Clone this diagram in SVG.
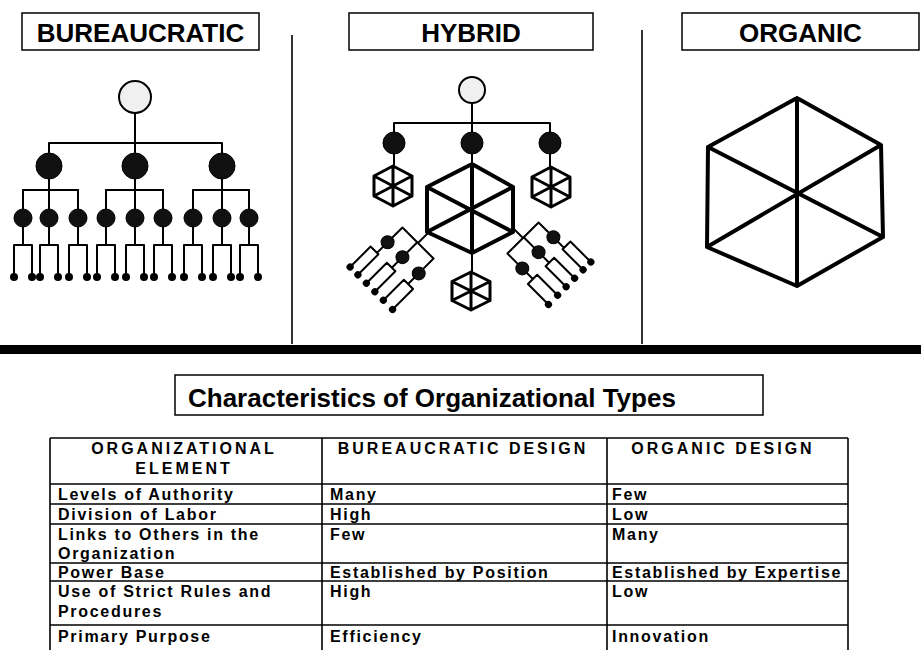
<svg xmlns="http://www.w3.org/2000/svg" width="921" height="650" viewBox="0 0 921 650">
<style>
.ln{stroke:#000;stroke-width:2;fill:none;stroke-linecap:round;stroke-linejoin:round}
.hexb{stroke:#000;stroke-width:4;fill:none;stroke-linejoin:round;stroke-linecap:round}
.hexs{stroke:#000;stroke-width:3;fill:none;stroke-linejoin:round;stroke-linecap:round}
.rootc{fill:#f0f0f0;stroke:#000;stroke-width:2}
.dark{fill:#111;stroke:#000;stroke-width:1}
.dot{fill:#000}
.box{fill:#fff;stroke:#000;stroke-width:1.5}
.lbl{font-family:'Liberation Sans',Arial,sans-serif;font-weight:bold;font-size:26px;fill:#000}
.th{font-family:'Liberation Sans',Arial,sans-serif;font-weight:bold;font-size:16px;letter-spacing:3px;fill:#000}
.td{font-family:'Liberation Sans',Arial,sans-serif;font-weight:bold;font-size:16px;letter-spacing:1.7px;fill:#000}
.grid{stroke:#000;stroke-width:1.6;fill:none}
</style>
<defs>
<g id="brc">
<path class="ln" d="M0,-14V0M-22,0H22M-22,0V21M-1,0V21M22,0V21M-22,21V36M-31,36H-20M-31,36V65M-20,36V65M-1,21V36M-8,36H4M-8,36V65M4,36V65M22,21V36M16,36H29M16,36V65M29,36V65"/>
</g>
<g id="brn">
<circle class="dark" cx="-22" cy="21" r="6.5"/><circle class="dark" cx="-1" cy="21" r="6.5"/><circle class="dark" cx="22" cy="21" r="6.5"/>
<circle class="dot" cx="-31" cy="65" r="3.6"/><circle class="dot" cx="-20" cy="65" r="3.6"/><circle class="dot" cx="-8" cy="65" r="3.6"/><circle class="dot" cx="4" cy="65" r="3.6"/><circle class="dot" cx="16" cy="65" r="3.6"/><circle class="dot" cx="29" cy="65" r="3.6"/>
</g>
</defs>
<rect width="921" height="650" fill="#fff"/>

<g id="hdr-bureaucratic"><rect class="box" x="22" y="13" width="237" height="37"/><text class="lbl" x="140.5" y="42" text-anchor="middle">BUREAUCRATIC</text></g>
<g id="hdr-hybrid"><rect class="box" x="349" y="13" width="244" height="37"/><text class="lbl" x="471" y="42" text-anchor="middle">HYBRID</text></g>
<g id="hdr-organic"><rect class="box" x="682" y="13" width="237" height="37"/><text class="lbl" x="800.5" y="42" text-anchor="middle">ORGANIC</text></g>

<g id="dividers">
<line x1="292" y1="35" x2="292" y2="344" stroke="#000" stroke-width="1.6"/>
<line x1="642" y1="30" x2="642" y2="344" stroke="#000" stroke-width="1.6"/>
<rect x="0" y="345" width="921" height="9" fill="#000"/>
</g>

<g id="connectors">
<path class="ln" d="M135,113V143M49,143H222M49,143V153M135,143V153M222,143V153M49,179V190M135,179V190M222,179V190M23,190H78M106,190H163M193,190H249"/>
<path class="ln" d="M23,190V209M49,190V209M78,190V209M106,190V209M135,190V209M163,190V209M193,190V209M222,190V209M249,190V209"/>
<path class="ln" d="M23,227V245M14,245H32M14,245V277M32,245V277
M49,227V245M40,245H58M40,245V277M58,245V277
M78,227V245M69,245H87M69,245V277M87,245V277
M106,227V245M97,245H115M97,245V277M115,245V277
M135,227V245M126,245H144M126,245V277M144,245V277
M163,227V245M154,245H172M154,245V277M172,245V277
M193,227V245M184,245H202M184,245V277M202,245V277
M222,227V245M213,245H231M213,245V277M231,245V277
M249,227V245M240,245H258M240,245V277M258,245V277"/>
<path class="ln" d="M472,103V123M394,123H550M394,123V132M472,123V132M550,123V132M394,154V166M472,154V164M550,154V167M472,253V272"/>
<use href="#brc" transform="translate(418,243) rotate(45)"/>
<use href="#brc" transform="translate(523,238) rotate(-45) scale(-1,1)"/>
</g>

<g id="b-root"><circle class="rootc" cx="135" cy="97" r="16"/></g>
<g id="b-m1"><circle class="dark" cx="49" cy="166" r="13"/></g>
<g id="b-m2"><circle class="dark" cx="135" cy="166" r="13"/></g>
<g id="b-m3"><circle class="dark" cx="222" cy="166" r="13"/></g>
<g id="b-leaves">
<circle class="dark" cx="23" cy="218" r="9"/><circle class="dark" cx="49" cy="218" r="9"/><circle class="dark" cx="78" cy="218" r="9"/>
<circle class="dark" cx="106" cy="218" r="9"/><circle class="dark" cx="135" cy="218" r="9"/><circle class="dark" cx="163" cy="218" r="9"/>
<circle class="dark" cx="193" cy="218" r="9"/><circle class="dark" cx="222" cy="218" r="9"/><circle class="dark" cx="249" cy="218" r="9"/>
</g>
<g id="b-dots">
<circle class="dot" cx="14" cy="277" r="4"/><circle class="dot" cx="32" cy="277" r="4"/><circle class="dot" cx="40" cy="277" r="4"/><circle class="dot" cx="58" cy="277" r="4"/><circle class="dot" cx="69" cy="277" r="4"/><circle class="dot" cx="87" cy="277" r="4"/>
<circle class="dot" cx="97" cy="277" r="4"/><circle class="dot" cx="115" cy="277" r="4"/><circle class="dot" cx="126" cy="277" r="4"/><circle class="dot" cx="144" cy="277" r="4"/><circle class="dot" cx="154" cy="277" r="4"/><circle class="dot" cx="172" cy="277" r="4"/>
<circle class="dot" cx="184" cy="277" r="4"/><circle class="dot" cx="202" cy="277" r="4"/><circle class="dot" cx="213" cy="277" r="4"/><circle class="dot" cx="231" cy="277" r="4"/><circle class="dot" cx="240" cy="277" r="4"/><circle class="dot" cx="258" cy="277" r="4"/>
</g>

<g id="h-root"><circle class="rootc" cx="472" cy="90" r="13"/></g>
<g id="h-m1"><circle class="dark" cx="394" cy="143" r="11"/></g>
<g id="h-m2"><circle class="dark" cx="472" cy="143" r="11"/></g>
<g id="h-m3"><circle class="dark" cx="550" cy="143" r="11"/></g>
<g id="h-hex-left"><path class="hexs" d="M393,166L412,176L412,196L393,206L374,196L374,176ZM393,166V206M412,176L374,196M412,196L374,176"/></g>
<g id="h-hex-right"><path class="hexs" d="M551,167L570,177L570,197L551,207L532,197L532,177ZM551,167V207M570,177L532,197M570,197L532,177"/></g>
<g id="h-hex-big"><path class="hexb" d="M472,164L513,187L513,232L472,253L427,232L427,187ZM472,164V253M513,187L427,232M513,232L427,187"/></g>
<g id="h-hex-bottom"><path class="hexs" d="M471,272L490,281.5L490,300.5L471,310L452,300.5L452,281.5ZM471,272V310M490,281.5L452,300.5M490,300.5L452,281.5"/></g>
<g id="h-branch-left"><use href="#brn" transform="translate(418,243) rotate(45)"/></g>
<g id="h-branch-right"><use href="#brn" transform="translate(523,238) rotate(-45) scale(-1,1)"/></g>

<g id="o-hex"><path class="hexb" d="M797,98L881,145L883,237L797,286L707,247L708,147ZM797,98V286M708,147L883,237M881,145L707,247"/></g>

<g id="title"><rect class="box" x="175" y="375" width="588" height="40"/><text class="lbl" x="188" y="407">Characteristics of Organizational Types</text></g>

<g id="table">
<path class="grid" d="M50,438H848M50,484H848M50,504H848M50,524H848M50,563H848M50,581H848M50,625H848M50,438V652M322,438V652M607,438V652M848,438V652"/>
<text class="th" x="184" y="454" text-anchor="middle">ORGANIZATIONAL</text>
<text class="th" x="184" y="474" text-anchor="middle">ELEMENT</text>
<text class="th" x="463" y="454" text-anchor="middle">BUREAUCRATIC DESIGN</text>
<text class="th" x="723" y="454" text-anchor="middle">ORGANIC DESIGN</text>
<text class="td" x="58" y="500">Levels of Authority</text>
<text class="td" x="330" y="500">Many</text>
<text class="td" x="612" y="500">Few</text>
<text class="td" x="58" y="520">Division of Labor</text>
<text class="td" x="330" y="520">High</text>
<text class="td" x="612" y="520">Low</text>
<text class="td" x="58" y="540">Links to Others in the</text>
<text class="td" x="58" y="559">Organization</text>
<text class="td" x="330" y="540">Few</text>
<text class="td" x="612" y="540">Many</text>
<text class="td" x="58" y="578">Power Base</text>
<text class="td" x="330" y="578">Established by Position</text>
<text class="td" x="612" y="578">Established by Expertise</text>
<text class="td" x="58" y="597">Use of Strict Rules and</text>
<text class="td" x="58" y="617">Procedures</text>
<text class="td" x="330" y="597">High</text>
<text class="td" x="612" y="597">Low</text>
<text class="td" x="58" y="642">Primary Purpose</text>
<text class="td" x="330" y="642">Efficiency</text>
<text class="td" x="612" y="642">Innovation</text>
</g>
</svg>
